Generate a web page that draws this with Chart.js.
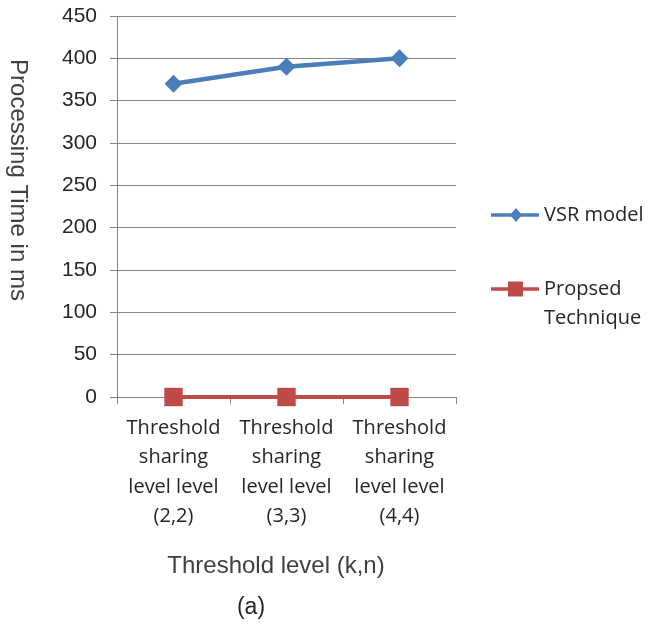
<!DOCTYPE html>
<html>
<head>
<meta charset="utf-8">
<script src="https://cdn.jsdelivr.net/npm/chart.js@4"></script>
<style>
  html, body { margin: 0; padding: 0; background: #fff; }
  #wrap { width: 650px; height: 626px; position: relative; }
</style>
</head>
<body>
<div id="wrap"><canvas id="chart" width="650" height="626"></canvas></div>
<script>
var categories = [
	['Threshold', 'sharing', 'level level', '(2,2)'],
	['Threshold', 'sharing', 'level level', '(3,3)'],
	['Threshold', 'sharing', 'level level', '(4,4)']
];
var vsrModel = [370, 390, 400];
var proposedTechnique = [0, 0, 0];
var yTicks = [0, 50, 100, 150, 200, 250, 300, 350, 400, 450];

var FONT = "'Open Sans', 'Liberation Sans', sans-serif";
var ARIAL = "'Liberation Sans', Arial, sans-serif";
var blue = '#4a7ebb', red = '#be4b48', grey = '#868686', ink = '#262626';

// titles, caption and the legend on the right are drawn by hand
var decor = {
	id: 'decor',
	afterDraw: function (chart) {
		var ctx = chart.ctx;
		ctx.save();
		ctx.fillStyle = '#404040';
		ctx.font = '24px ' + ARIAL;
		ctx.textAlign = 'center';
		ctx.textBaseline = 'middle';

		// y title reads top to bottom
		ctx.save();
		ctx.translate(18, 180);
		ctx.rotate(Math.PI / 2);
		ctx.fillText('Processing Time in ms', 0, 0);
		ctx.restore();

		ctx.fillText('Threshold level (k,n)', 276, 566);
		ctx.fillStyle = ink;
		ctx.font = '23px ' + ARIAL;
		ctx.fillText('(a)', 251, 608);

		// legend
		var items = [
			{label: ['VSR model'], color: blue, style: 'diamond', y: 215},
			{label: ['Propsed', 'Technique'], color: red, style: 'square', y: 289}
		];
		ctx.textAlign = 'left';
		ctx.font = '20px ' + FONT;
		items.forEach(function (it) {
			ctx.strokeStyle = it.color;
			ctx.lineWidth = 3.5;
			ctx.beginPath();
			ctx.moveTo(491, it.y);
			ctx.lineTo(539, it.y);
			ctx.stroke();
			ctx.fillStyle = it.color;
			ctx.beginPath();
			if (it.style == 'diamond') {
				ctx.moveTo(516, it.y - 7);
				ctx.lineTo(522, it.y);
				ctx.lineTo(516, it.y + 7);
				ctx.lineTo(510, it.y);
				ctx.closePath();
			} else {
				ctx.rect(508, it.y - 7.5, 15, 15);
			}
			ctx.fill();
			ctx.fillStyle = ink;
			it.label.forEach(function (t, i) {
				ctx.fillText(t, 544, it.y + i * 29);
			});
		});
		ctx.restore();
	}
};

new Chart(document.getElementById('chart'), {
	type: 'line',
	data: {
		labels: categories,
		datasets: [{
			label: 'VSR model',
			data: vsrModel,
			borderColor: blue,
			backgroundColor: blue,
			borderWidth: 4.5,
			pointStyle: 'rectRot',
			pointRadius: 9,
			pointBorderWidth: 0,
			tension: 0,
			clip: false
		}, {
			label: 'Propsed Technique',
			data: proposedTechnique,
			borderColor: red,
			backgroundColor: red,
			borderWidth: 4,
			pointStyle: 'rect',
			pointRadius: 13,
			pointBorderWidth: 0,
			tension: 0,
			clip: false
		}]
	},
	options: {
		responsive: false,
		animation: false,
		devicePixelRatio: 1,
		layout: {padding: {top: 16, right: 194, left: 0, bottom: 0}},
		plugins: {legend: {display: false}, tooltip: {enabled: false}},
		scales: {
			x: {
				offset: true,
				afterFit: function (s) {
					s.height = 229;
					s.paddingLeft = 0;
					s.paddingRight = 0;
				},
				grid: {
					offset: true,
					drawOnChartArea: false,
					color: grey,
					tickLength: 7,
					lineWidth: 1
				},
				border: {color: grey, width: 1},
				ticks: {
					color: ink,
					padding: 9,
					maxRotation: 0,
					autoSkip: false,
					font: {family: FONT, size: 20, lineHeight: 1.48}
				}
			},
			y: {
				min: 0,
				max: 450,
				afterFit: function (s) {
					s.width = 117;
					s.paddingTop = 0;
					s.paddingBottom = 0;
				},
				afterBuildTicks: function (s) {
					s.ticks = yTicks.map(function (v) { return {value: v}; });
				},
				grid: {color: grey, tickLength: 7, lineWidth: 1},
				border: {color: grey, width: 1},
				ticks: {
					color: ink,
					padding: 13,
					font: {family: ARIAL, size: 21}
				}
			}
		}
	},
	plugins: [decor]
});
</script>
</body>
</html>
